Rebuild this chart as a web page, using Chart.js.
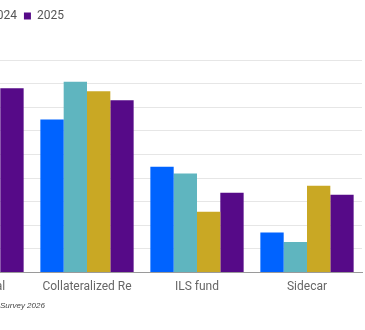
<!DOCTYPE html>
<html>
<head>
<meta charset="utf-8">
<script src="https://cdn.jsdelivr.net/npm/chart.js@4.4.1/dist/chart.umd.min.js"></script>
<style>
  html, body { margin: 0; padding: 0; background: #fff; }
  body { width: 365px; height: 330px; overflow: hidden; position: relative; }
  #chart { position: absolute; left: -124px; top: 0; }
  .source {
    position: absolute; left: 0; top: 301px;
    font: italic 8px "Liberation Sans Narrow", "Liberation Sans", Arial, sans-serif; color: #444;
    white-space: nowrap;
  }
</style>
</head>
<body>
<canvas id="chart" width="500" height="330"></canvas>
<div class="source">Survey 2026</div>
<script>
// share of respondents by structure type, per survey year (%)
const categories = ["Traditional", "Collateralized Re", "ILS fund", "Sidecar"];
const years = ["2022", "2023", "2024", "2025"];
const v2022 = [null, 32.4, 22.4, 8.5];
const v2023 = [null, 40.4, 21.0, 6.5];
const v2024 = [null, 38.4, 12.9, 18.4];
const v2025 = [39.0, 36.5, 16.9, 16.5];
const yTicks = { min: 0, max: 45, step: 5 };

const palette = ["#0063ff", "#5fb5bf", "#c9a824", "#560a88"];
const series = [v2022, v2023, v2024, v2025];

// push the plot area down below the legend row
const legendGap = {
  id: "legendGap",
  beforeInit(chart) {
    const fit = chart.legend.fit;
    chart.legend.fit = function () {
      fit.bind(chart.legend)();
      this.height += 28;
    };
  }
};

const ctx = document.getElementById("chart").getContext("2d");
new Chart(ctx, {
  type: "bar",
  data: {
    labels: categories,
    datasets: years.map((y, i) => ({
      label: y,
      data: series[i],
      backgroundColor: palette[i],
      borderWidth: 0,
      categoryPercentage: 0.848,
      barPercentage: 1.0
    }))
  },
  options: {
    responsive: false,
    animation: false,
    layout: { padding: { left: 0, right: 14, top: 3, bottom: 29 } },
    plugins: {
      tooltip: { enabled: false },
      legend: {
        position: "top",
        align: "start",
        labels: {
          boxWidth: 7,
          boxHeight: 7,
          padding: 7,
          color: "#555",
          font: { family: "Roboto, 'Liberation Sans', sans-serif", size: 12 }
        }
      }
    },
    scales: {
      x: {
        grid: { display: false, drawTicks: false },
        border: { display: true, color: "#9a9a9a", width: 1 },
        ticks: {
          padding: 7,
          color: "#666",
          font: { family: "Roboto, 'Liberation Sans', sans-serif", size: 12 }
        }
      },
      y: {
        min: yTicks.min,
        max: yTicks.max,
        border: { display: false },
        grid: {
          drawTicks: false,
          color: (c) => (c.tick && c.tick.value === 0 ? "#9a9a9a" : "#e6e6e6")
        },
        ticks: { display: false, stepSize: yTicks.step },
        afterFit: (s) => { s.width = 46; }
      }
    }
  },
  plugins: [legendGap]
});
</script>
</body>
</html>
